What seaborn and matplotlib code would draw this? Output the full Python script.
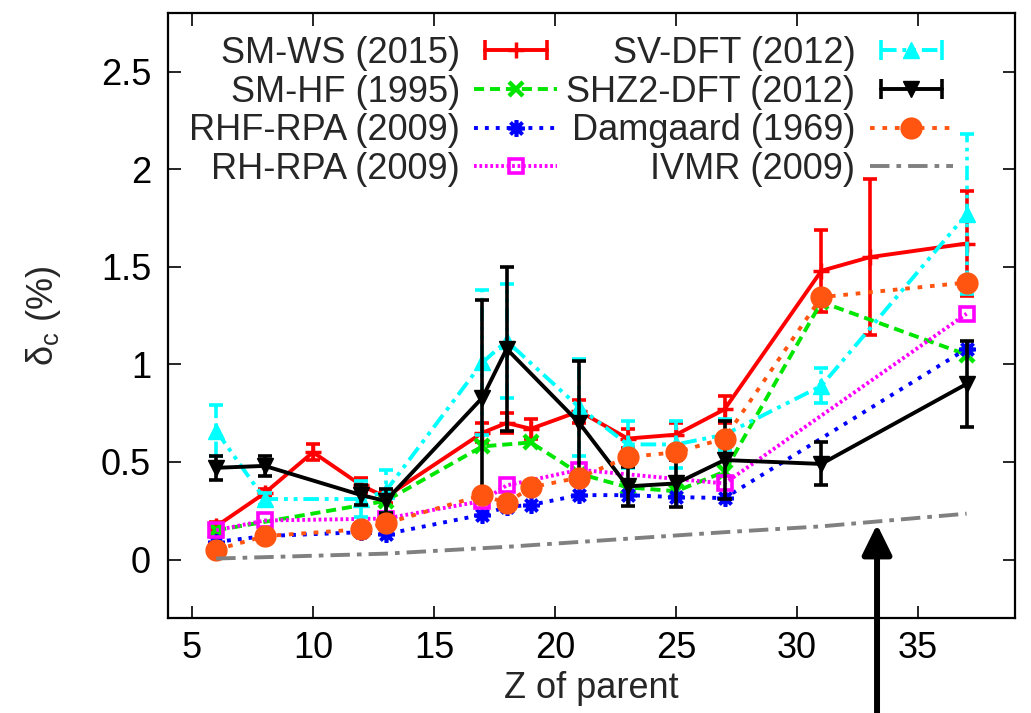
import numpy as np
import pandas as pd
import matplotlib
matplotlib.use("Agg")
import matplotlib.pyplot as plt
import seaborn as sns
from matplotlib.lines import Line2D
from matplotlib.legend_handler import HandlerLine2D, HandlerTuple
from matplotlib.ticker import FuncFormatter

# ---------------- data ----------------
Z_ws = [6, 8, 10, 12, 13, 17, 18, 19, 21, 23, 25, 27, 31, 33, 37]
ws = [0.17, 0.34, 0.55, 0.38, 0.32, 0.65, 0.70, 0.67, 0.76, 0.62, 0.64, 0.77, 1.48, 1.55, 1.62]
ws_err = [0.02, 0.02, 0.04, 0.04, 0.03, 0.05, 0.05, 0.05, 0.06, 0.05, 0.06, 0.07, 0.21, 0.40, 0.27]

Z_hf = [6, 13, 17, 19, 21, 23, 25, 27, 31, 37]
hf = [0.15, 0.30, 0.58, 0.60, 0.44, 0.37, 0.35, 0.45, 1.32, 1.05]

Z_rhf = [6, 8, 12, 13, 17, 18, 19, 21, 23, 25, 27, 37]
rhf = [0.09, 0.12, 0.14, 0.13, 0.23, 0.27, 0.28, 0.33, 0.33, 0.32, 0.315, 1.08]

Z_rh = [6, 8, 13, 17, 18, 21, 27, 37]
rh = [0.15, 0.20, 0.21, 0.30, 0.38, 0.46, 0.39, 1.26]

Z_sv = [6, 8, 12, 13, 17, 18, 21, 23, 25, 27, 31, 37]
sv = [0.66, 0.31, 0.31, 0.35, 1.01, 1.12, 0.78, 0.59, 0.59, 0.64, 0.89, 1.77]
sv_err = [0.13, 0.03, 0.09, 0.11, 0.37, 0.29, 0.25, 0.12, 0.12, 0.08, 0.09, 0.41]

Z_shz = [6, 8, 12, 13, 17, 18, 21, 23, 25, 27, 31, 37]
shz = [0.47, 0.48, 0.33, 0.30, 0.83, 1.08, 0.70, 0.375, 0.39, 0.51, 0.49, 0.90]
shz_err = [0.06, 0.05, 0.05, 0.06, 0.50, 0.42, 0.32, 0.10, 0.12, 0.20, 0.11, 0.22]

Z_dam = [6, 8, 12, 13, 17, 18, 19, 21, 23, 25, 27, 31, 37]
dam = [0.05, 0.12, 0.155, 0.185, 0.33, 0.29, 0.37, 0.42, 0.525, 0.55, 0.62, 1.345, 1.42]

Z_iv = [6, 8, 13, 18, 21, 27, 31, 37]
iv = [0.005, 0.012, 0.03, 0.065, 0.09, 0.14, 0.17, 0.235]

labels = ["SM-WS (2015)", "SM-HF (1995)", "RHF-RPA (2009)", "RH-RPA (2009)",
          "SV-DFT (2012)", "SHZ2-DFT (2012)", "Damgaard (1969)", "IVMR (2009)"]

x_ticks = [5, 10, 15, 20, 25, 30, 35]
y_ticks = [0, 0.5, 1, 1.5, 2, 2.5]
arrow_Z = 33.3
arrow_tip = 0.18

# ---------------- style ----------------
sns.set_style("ticks")
plt.rcParams["font.family"] = ["Liberation Sans", "DejaVu Sans"]
plt.rcParams["mathtext.fontset"] = "custom"
plt.rcParams["mathtext.rm"] = "Liberation Sans"
plt.rcParams["mathtext.it"] = "Liberation Sans:italic"

FS = 26
LW = 2.8

series = [
    dict(x=Z_ws, y=ws, err=ws_err, color="#ff0000", ls="-", marker="+", ms=11, mfc="#ff0000", mew=2.5),
    dict(x=Z_hf, y=hf, err=None, color="#00e600", ls=(0, (2.6, 1.5)), marker="x", ms=10, mfc="#00e600", mew=3.2),
    dict(x=Z_rhf, y=rhf, err=None, color="#0000ff", ls=(0, (1, 1.8)), marker=(8, 2, 0), ms=12, mfc="#0000ff", mew=2.6),
    dict(x=Z_rh, y=rh, err=None, color="#ff00ff", ls=(0, (0.7, 0.7)), marker="s", ms=10, mfc="none", mew=2.6),
    dict(x=Z_sv, y=sv, err=sv_err, color="#00ffff", ls=(0, (4, 1.5, 1, 1.5, 1, 1.5)), marker="^", ms=12, mfc="#00ffff", mew=1),
    dict(x=Z_shz, y=shz, err=shz_err, color="#000000", ls="-", marker="v", ms=12, mfc="#000000", mew=1),
    dict(x=Z_dam, y=dam, err=None, color="#ff5510", ls=(0, (1.2, 2.0)), marker="o", ms=15, mfc="#ff5510", mew=1),
    dict(x=Z_iv, y=iv, err=None, color="#808080", ls=(0, (5, 1.8, 1.2, 1.8)), marker=None, ms=0, mfc="none", mew=0),
]

fig = plt.figure(figsize=(10.31, 7.13), dpi=100)
ax = fig.add_axes([0.1627, 0.1332, 0.8218, 0.8481])

handles = []
handler_map = {tuple: HandlerTuple(ndivide=1, pad=0)}
for i, s in enumerate(series):
    z = 3 + i
    df = pd.DataFrame({"Z": s["x"], "v": s["y"]})
    kw = dict(marker=s["marker"], markersize=s["ms"], markeredgecolor=s["color"],
              markerfacecolor=s["mfc"], markeredgewidth=s["mew"]) if s["marker"] else dict(marker=None)
    sns.lineplot(data=df, x="Z", y="v", ax=ax, color=s["color"], linewidth=LW,
                 linestyle=s["ls"], legend=False, zorder=z, **kw)
    if s["err"] is not None:
        eb = ax.errorbar(s["x"], s["y"], yerr=s["err"], fmt="none", ecolor=s["color"],
                         elinewidth=2.6, capsize=5, capthick=2.6, zorder=z)
        if s["ls"] != "-":
            for lc in eb[2]:
                lc.set_linestyle(s["ls"])
    # legend handle
    line_h = Line2D([], [], color=s["color"], lw=LW, linestyle=s["ls"])
    if s["err"] is not None:
        caps = Line2D([], [], color=s["color"], lw=LW, linestyle=s["ls"], marker="|",
                      markersize=15, markeredgewidth=2.6)
        handler_map[caps] = HandlerLine2D(numpoints=2)
        mk = Line2D([], [], linestyle="none", marker=s["marker"], markersize=s["ms"],
                    markeredgecolor=s["color"], markerfacecolor=s["mfc"], markeredgewidth=s["mew"])
        handles.append((caps, mk))
    else:
        if s["marker"]:
            line_h.set_marker(s["marker"])
            line_h.set_markersize(s["ms"])
            line_h.set_markeredgecolor(s["color"])
            line_h.set_markerfacecolor(s["mfc"])
            line_h.set_markeredgewidth(s["mew"])
        handles.append(line_h)

ax.set_xlim(4, 39)
ax.set_ylim(-0.3, 2.8)
ax.set_xticks(x_ticks)
ax.set_yticks(y_ticks)
ax.yaxis.set_major_formatter(FuncFormatter(lambda v, p: f"{v:g}"))
ax.tick_params(direction="in", length=9, width=1.2, top=True, right=True,
               labelsize=FS, colors="black")
ax.tick_params(axis="x", pad=9)
ax.tick_params(axis="y", pad=12)
for sp in ax.spines.values():
    sp.set_linewidth(1.6)
    sp.set_color("black")
    sp.set_visible(True)

ax.set_xlabel("Z of parent", fontsize=FS, labelpad=4)
ax.set_ylabel("δ$_{\\rm c}$ (%)", fontsize=FS, labelpad=27)

ax.annotate("", xy=(arrow_Z, arrow_tip), xytext=(arrow_Z, -0.9),
            arrowprops=dict(arrowstyle="-|>,head_length=0.65,head_width=0.32",
                            color="black", lw=4.3, shrinkA=0, shrinkB=0, mutation_scale=28),
            annotation_clip=False, zorder=20)

leg = ax.legend(handles, labels, ncol=2, markerfirst=False, frameon=False, fontsize=FS,
                handlelength=2.3, handletextpad=0.4, columnspacing=0.25, labelspacing=0.1,
                borderpad=0, borderaxespad=0, numpoints=1, loc="upper left",
                bbox_to_anchor=(189 / 1031, 1 - 36 / 713), bbox_transform=fig.transFigure,
                handler_map=handler_map)
leg.set_zorder(30)

fig.savefig("out.png", dpi=100)
